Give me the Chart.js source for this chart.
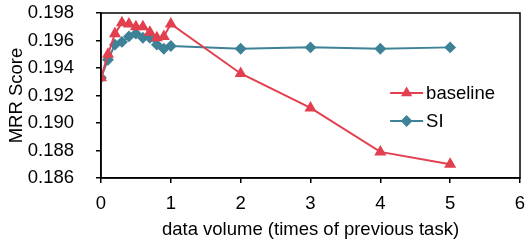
<!DOCTYPE html>
<html>
<head>
<meta charset="utf-8">
<script src="https://cdn.jsdelivr.net/npm/chart.js@4/dist/chart.umd.min.js"></script>
<style>
  html, body { margin: 0; padding: 0; background: #fff; }
  #wrap { width: 532px; height: 246px; }
</style>
</head>
<body>
<div id="wrap"><canvas id="mrrChart" width="532" height="246"></canvas></div>
<script>
const volumes = [0, 0.1, 0.2, 0.3, 0.4, 0.5, 0.6, 0.7, 0.8, 0.9, 1, 2, 3, 4, 5];
const baseline = [0.1933, 0.1950, 0.1965, 0.1973, 0.1972, 0.1970, 0.1970, 0.1966, 0.1962, 0.1963, 0.1972, 0.1936, 0.1911, 0.1879, 0.1870];
const si = [0.1933, 0.1946, 0.1957, 0.1959, 0.1963, 0.1965, 0.1962, 0.1962, 0.1957, 0.1954, 0.1956, 0.1954, 0.1955, 0.1954, 0.1955];
const xTicks = [0, 1, 2, 3, 4, 5, 6];
const yTicks = [0.186, 0.188, 0.190, 0.192, 0.194, 0.196, 0.198];

const red = "#e2404f";
const teal = "#3d8297";
const font = { family: "'Liberation Sans', Arial, sans-serif", size: 18.5 };

function toPoints(vals){
    return volumes.map((v, i) => ({ x: v, y: vals[i] }));
}

// box round the plot area plus the line+marker legend
const frameAndLegend = {
    id: "frameAndLegend",
    afterDatasetsDraw(chart){
        const ctx = chart.ctx;
        const a = chart.chartArea;
        ctx.save();
        ctx.strokeStyle = "#000";
        ctx.lineWidth = 1.5;
        ctx.strokeRect(a.left, a.top, a.right - a.left, a.bottom - a.top);

        const x0 = a.left + (a.right - a.left) * 0.69;
        let y = a.top + (a.bottom - a.top) * 0.485;
        chart.data.datasets.forEach(ds => {
            ctx.strokeStyle = ds.borderColor;
            ctx.lineWidth = 2;
            ctx.beginPath();
            ctx.moveTo(x0, y);
            ctx.lineTo(x0 + 33, y);
            ctx.stroke();
            ctx.fillStyle = ds.borderColor;
            Chart.helpers.drawPoint(ctx, {
                pointStyle: ds.pointStyle,
                radius: 4.5,
                borderWidth: 1
            }, x0 + 16.5, y);
            ctx.fillStyle = "#000";
            ctx.font = font.size + "px " + font.family;
            ctx.textBaseline = "middle";
            ctx.textAlign = "left";
            ctx.fillText(ds.label, x0 + 36, y + 1);
            y += 28;
        });
        ctx.restore();
    }
};

new Chart(document.getElementById("mrrChart"), {
    type: "line",
    data: {
        datasets: [
            {
                label: "baseline",
                data: toPoints(baseline),
                borderColor: red,
                backgroundColor: red,
                pointBackgroundColor: red,
                pointStyle: "triangle",
                pointRadius: 5,
                borderWidth: 2
            },
            {
                label: "SI",
                data: toPoints(si),
                borderColor: teal,
                backgroundColor: teal,
                pointBackgroundColor: teal,
                pointStyle: "rectRot",
                pointRadius: 4.5,
                borderWidth: 2
            }
        ]
    },
    options: {
        responsive: false,
        animation: false,
        layout: { padding: { top: 13, right: 12, left: 0, bottom: 0 } },
        plugins: {
            legend: { display: false },
            tooltip: { enabled: false }
        },
        scales: {
            x: {
                type: "linear",
                min: 0,
                max: 6,
                afterBuildTicks: axis => { axis.ticks = xTicks.map(v => ({ value: v })); },
                afterFit: axis => { axis.height = 68; axis.paddingLeft = 0; axis.paddingRight = 0; },
                ticks: { color: "#000", font: font, padding: 10, maxRotation: 0, autoSkip: false },
                grid: { drawOnChartArea: false, drawTicks: true, tickLength: 5, color: "#000", lineWidth: 1.5 },
                border: { display: true, color: "#000", width: 1.5 },
                title: { display: true, text: "data volume (times of previous task)", color: "#000", font: font, padding: { top: 2, bottom: 5 } }
            },
            y: {
                min: 0.186,
                max: 0.198,
                afterBuildTicks: axis => { axis.ticks = yTicks.map(v => ({ value: v })); },
                afterFit: axis => { axis.width = 101; axis.paddingTop = 0; axis.paddingBottom = 0; },
                ticks: { color: "#000", font: font, padding: 22, autoSkip: false, callback: v => v.toFixed(3) },
                grid: { drawOnChartArea: false, drawTicks: true, tickLength: 5, color: "#000", lineWidth: 1.5 },
                border: { display: true, color: "#000", width: 1.5 },
                title: { display: true, text: "MRR Score", color: "#000", font: font, padding: { top: 6, bottom: 0 } }
            }
        }
    },
    plugins: [frameAndLegend]
});
</script>
</body>
</html>
